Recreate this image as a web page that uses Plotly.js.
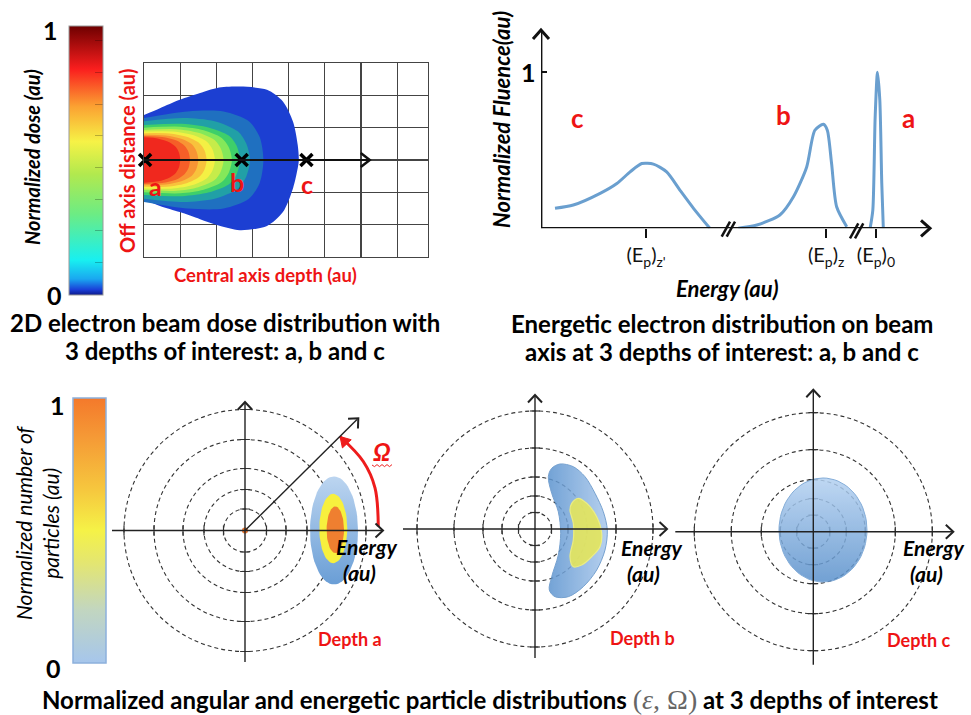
<!DOCTYPE html>
<html><head><meta charset="utf-8">
<script src="https://cdn.plot.ly/plotly-3.0.1.min.js"></script>
<style>html,body{margin:0;padding:0;background:#fff}</style>
</head><body><div id="chart" style="width:971px;height:715px"></div>
<script>
// ================= DATA =================
// Panel 1 : 2D dose distribution (depth in grid columns, off-axis distance in grid rows)
const doseOuterDepth  = [0, 0.44, 0.99, 1.55, 2.02, 2.65, 3.4, 3.84, 4.12, 4.25, 4.28];
const doseOuterTop    = [1.39, 1.6, 1.86, 2.07, 2.23, 2.27, 2.17, 1.81, 1.18, 0.46, 0];
const doseOuterBottom = [1.24, 1.42, 1.61, 1.83, 2.01, 2.17, 2.04, 1.61, 0.87, 0.25, 0];
const doseBandColors = ['#1f70c0','#21a0a6','#3ecf6a','#84e85a','#c6ec4a','#f4f044','#f8c23c','#f89434','#f55e28','#f0281e'];
const doseBandDepth = [
  [0, 1.2, 2.2, 2.9, 3.2, 3.3],
  [0, 1.1, 1.95, 2.6, 2.83, 2.93],
  [0, 1.05, 1.8, 2.35, 2.56, 2.65],
  [0, 1.0, 1.65, 2.15, 2.34, 2.43],
  [0, 0.9, 1.5, 1.95, 2.12, 2.2],
  [0, 0.8, 1.35, 1.73, 1.89, 1.96],
  [0, 0.7, 1.2, 1.53, 1.67, 1.73],
  [0, 0.6, 1.05, 1.33, 1.45, 1.5],
  [0, 0.5, 0.9, 1.12, 1.23, 1.27],
  [0, 0.4, 0.7, 0.88, 0.97, 1.0]];
const doseBandHalfWidth = [
  [1.3, 1.5, 1.5, 1.2, 0.7, 0],
  [1.2, 1.3, 1.2, 0.88, 0.5, 0],
  [1.08, 1.12, 1.0, 0.75, 0.44, 0],
  [1.0, 1.03, 0.92, 0.68, 0.4, 0],
  [0.93, 0.95, 0.84, 0.62, 0.36, 0],
  [0.88, 0.88, 0.77, 0.57, 0.33, 0],
  [0.83, 0.82, 0.71, 0.52, 0.3, 0],
  [0.78, 0.76, 0.65, 0.48, 0.27, 0],
  [0.74, 0.71, 0.6, 0.44, 0.25, 0],
  [0.7, 0.66, 0.55, 0.4, 0.22, 0]];
const depthNames = ['a', 'b', 'c'];
const depthPositions = [0.03, 2.70, 4.49];
const doseColorscale = [[0,'#0c1a8a'],[0.02,'#1a3fd8'],[0.06,'#1aa8f0'],[0.13,'#18f0f0'],[0.3,'#6cec84'],[0.45,'#b2e94e'],[0.57,'#f6f246'],[0.7,'#fba232'],[0.84,'#fa1e1e'],[1,'#6e0000']];

// Panel 2 : normalized fluence vs energy
const fluenceC_E = [0.36, 0.83, 1.52, 1.95, 2.29, 2.59, 2.89, 3.23, 3.57, 3.92, 4.34];
const fluenceC   = [0.128, 0.149, 0.224, 0.287, 0.361, 0.415, 0.411, 0.361, 0.245, 0.128, 0];
const fluenceB_E = [5.07, 5.55, 6.14, 6.49, 6.83, 7.04, 7.26, 7.36, 7.47, 7.60, 7.86];
const fluenceB   = [0, 0.021, 0.085, 0.202, 0.393, 0.628, 0.666, 0.628, 0.415, 0.138, 0.01];
const fluenceA_E = [8.46, 8.53, 8.59, 8.65, 8.71, 8.76, 8.80];
const fluenceA   = [0, 0.117, 0.71, 1.0, 0.82, 0.29, 0];
const energyTickVals = [2.70, 7.33, 8.61];
const energyTickText = ["(E<sub>p</sub>)<sub>z'</sub>", "(E<sub>p</sub>)<sub>z</sub>", "(E<sub>p</sub>)<sub>0</sub>"];

// Panel 3 : angular / energetic distributions (units: energy radius)
const ringRadiiA = [2.15, 4.1, 6.2, 9.1, 12.1];
const ringRadiiB = [1.65, 3.3, 5.2, 8.1, 11.8];
const ringRadiiC = [1.65, 3.3, 5.2, 8.2, 11.9];
// depth a : nested ellipses (outer, yellow, orange)
const blobACenterE = [8.9, 8.83, 9.03];
const blobACenterW = [0.0, 0.2, 0.07];
const blobAHalfE   = [2.4, 1.4, 0.87];
const blobAHalfW   = [5.4, 3.47, 2.33];
// depth b : crescent
const blobBOuterE = [1.67, 2.5, 3.83, 5.0, 6.0, 6.83, 7.23, 7.0, 6.17, 4.83, 3.33, 2.0, 1.43, 1.67, 2.33, 2.57, 2.33, 1.67, 1.33, 1.67];
const blobBOuterW = [6.07, 6.5, 6.23, 5.23, 3.57, 1.73, -0.1, -2.1, -4.1, -5.77, -6.77, -6.77, -6.1, -4.77, -2.6, -0.43, 1.73, 3.57, 5.23, 6.07];
const blobBInnerE = [3.67, 4.33, 5.17, 6.17, 6.67, 6.5, 5.67, 4.67, 3.83, 3.5, 3.83, 3.83, 3.5, 3.67];
const blobBInnerW = [2.57, 3.07, 2.57, 1.23, -0.43, -1.77, -2.77, -3.6, -3.77, -2.77, -1.1, 0.57, 1.9, 2.57];
// depth c : wide ellipse
const blobCCenter = [0.97, 0.17];
const blobCHalf   = [4.4, 5.2];
// Omega arc (angular spread)
const omegaArcE = [13.33, 13.0, 11.83, 9.5];
const omegaArcW = [0.4, 4.27, 6.9, 9.4];
const particleColorscale = [[0,'#a6c6ec'],[0.2,'#c2d6c0'],[0.38,'#e4e670'],[0.5,'#f5f247'],[0.65,'#f6c83e'],[0.85,'#f59a36'],[1,'#f4792b']];

// ================= BUILD =================
const W = 971, H = 715;
const PX = v => v / W, PY = v => 1 - v / H;
const FONT = 'Lato, "Open Sans", sans-serif';
const RED = '#ee1414';
const traces = [], ann = [], shapes = [];

const polarGeom = [
  {xa:'x3', ya:'y3', cx:245, cy:530.5, radii:ringRadiiA, hx:[-13.3, 13.8], vy:[-13.15, 12.85]},
  {xa:'x4', ya:'y4', cx:535, cy:529, radii:ringRadiiB, hx:[-13.2, 13.2], vy:[-12.9, 13.4]},
  {xa:'x5', ya:'y5', cx:813.3, cy:531.7, radii:ringRadiiC, hx:[-13.8, 14.0], vy:[-13.3, 14.2]}];
const UNIT = 10; // px per unit in polar panels

function chevron(tx, ty, dx, dy, L, Wd, color, lw, filled) {
  const n = Math.hypot(dx, dy); dx /= n; dy /= n;
  const nx = -dy, ny = dx;
  const ax = tx - L * dx + Wd * nx, ay = ty - L * dy + Wd * ny;
  const bx = tx - L * dx - Wd * nx, by = ty - L * dy - Wd * ny;
  shapes.push({type:'path', xref:'paper', yref:'paper',
    path:'M' + PX(ax) + ',' + PY(ay) + ' L' + PX(tx) + ',' + PY(ty) + ' L' + PX(bx) + ',' + PY(by) + (filled ? ' Z' : ''),
    line:{color:color, width:lw}, fillcolor: filled ? color : 'rgba(0,0,0,0)'});
}
function seg(xref, yref, x0, y0, x1, y1, color, width) {
  shapes.push({type:'line', xref:xref, yref:yref, x0:x0, y0:y0, x1:x1, y1:y1, line:{color:color, width:width}});
}

// --- panel 1 blob
const oX = doseOuterDepth.concat(doseOuterDepth.slice(0, -1).reverse());
const oY = doseOuterTop.concat(doseOuterBottom.slice(0, -1).reverse().map(v => -v));
traces.push({type:'scatter', x:oX, y:oY, xaxis:'x', yaxis:'y', mode:'lines', fill:'toself', fillcolor:'#1c3fd2',
  line:{color:'#1c3fd2', width:0, shape:'spline', smoothing:0.8}, hoverinfo:'skip'});
doseBandColors.forEach((c, i) => {
  const d = doseBandDepth[i], h = doseBandHalfWidth[i];
  traces.push({type:'scatter', xaxis:'x', yaxis:'y', mode:'lines', fill:'toself', fillcolor:c,
    x: d.concat(d.slice(0, -1).reverse()),
    y: h.concat(h.slice(0, -1).reverse().map(v => -v)),
    line:{color:c, width:0, shape:'spline', smoothing:0.8}, hoverinfo:'skip'});
});
traces.push({type:'scatter', xaxis:'x', yaxis:'y', mode:'markers', x:[0, 0], y:[0, 0], hoverinfo:'skip',
  marker:{size:0, color:[0, 1], cmin:0, cmax:1, colorscale:doseColorscale, showscale:true,
    colorbar:{x:PX(69), xanchor:'left', y:PY(26), yanchor:'top', len:269 / H, thickness:34, xpad:0, ypad:0,
      outlinewidth:1, outlinecolor:'#999', ticks:'inside', ticklen:8, tickcolor:'rgba(0,0,0,0.25)',
      tickmode:'linear', tick0:0.12, dtick:0.118, showticklabels:false}}});
seg('x', 'y', 0, 0, 6.2, 0, '#111', 2);
chevron(144 + 6.24 * 36.18, 160, 1, 0, 9, 7, '#111', 2.5, false);
traces.push({type:'scatter', xaxis:'x', yaxis:'y', mode:'markers', x:depthPositions, y:depthPositions.map(() => 0),
  marker:{symbol:'x-thin', size:12, line:{width:3.5, color:'#000'}}, hoverinfo:'skip', cliponaxis:false});

// --- panel 2 curves
[[fluenceC_E, fluenceC], [fluenceB_E, fluenceB], [fluenceA_E, fluenceA]].forEach(([e, f]) => {
  traces.push({type:'scatter', xaxis:'x2', yaxis:'y2', mode:'lines', x:e, y:f,
    line:{color:'#6a9fcf', width:3, shape:'spline', smoothing:0.7}, hoverinfo:'skip'});
});
seg('x2', 'y2', 0, 0, 9.95, 0, '#111', 2.8);
seg('x2', 'y2', 0, 0, 0, 1.26, '#111', 2.8);
chevron(930, 228.3, 1, 0, 9, 8, '#111', 3, false);
chevron(541, 30, 0, -1, 9, 8, '#111', 3, false);
[[721.7, 236.7, 730, 221.7], [726.7, 236.7, 735, 221.7], [850, 238.3, 858.3, 223.3], [855, 238.3, 863.3, 223.3]].forEach(s =>
  seg('paper', 'paper', PX(s[0]), PY(s[1]), PX(s[2]), PY(s[3]), '#111', 2.5));

// --- panel 3 polar diagrams
polarGeom.forEach(p => {
  p.radii.forEach(r => shapes.push({type:'circle', xref:p.xa, yref:p.ya, x0:-r, x1:r, y0:-r, y1:r,
    line:{color:'#333', width:1.1, dash:'4px,3px'}, layer:'below'}));
  const n = p.radii.length;
  traces.push({type:'scatter', xaxis:p.xa, yaxis:p.ya, mode:'markers', hoverinfo:'skip',
    x: p.radii.concat(p.radii.map(r => -r), p.radii.map(() => 0), p.radii.map(() => 0)),
    y: p.radii.map(() => 0).concat(p.radii.map(() => 0), p.radii, p.radii.map(r => -r)),
    marker:{symbol: Array(2 * n).fill('line-ns').concat(Array(2 * n).fill('line-ew')), size:7,
      line:{width:1.2, color:'#333'}}});
  seg(p.xa, p.ya, p.hx[0], 0, p.hx[1] - 0.1, 0, '#222', 1.4);
  seg(p.xa, p.ya, 0, p.vy[0], 0, p.vy[1] - 0.1, '#222', 1.4);
  chevron(p.cx + UNIT * p.hx[1], p.cy, 1, 0, 7.5, 7, '#222', 2, false);
  chevron(p.cx, p.cy - UNIT * p.vy[1], 0, -1, 7.5, 7, '#222', 2, false);
});
function ellipseTrace(xa, ya, cx, cy, rx, ry, extra) {
  const xs = [], ys = [];
  for (let k = 0; k <= 72; k++) { const t = 2 * Math.PI * k / 72; xs.push(cx + rx * Math.cos(t)); ys.push(cy + ry * Math.sin(t)); }
  return Object.assign({type:'scatter', xaxis:xa, yaxis:ya, mode:'lines', x:xs, y:ys, fill:'toself', hoverinfo:'skip'}, extra);
}
traces.push(ellipseTrace('x3', 'y3', blobACenterE[0], blobACenterW[0], blobAHalfE[0], blobAHalfW[0],
  {line:{width:0, color:'#8fb5e0'}, fillgradient:{type:'vertical', colorscale:[[0,'#6a9ed6'],[1,'#bcd5f0']]}}));
traces.push(ellipseTrace('x3', 'y3', blobACenterE[1], blobACenterW[1], blobAHalfE[1], blobAHalfW[1],
  {line:{width:0, color:'#f7f03e'}, fillcolor:'#f7f03e'}));
traces.push(ellipseTrace('x3', 'y3', blobACenterE[2], blobACenterW[2], blobAHalfE[2], blobAHalfW[2],
  {line:{width:0, color:'#ef7f30'}, fillcolor:'#ef7f30'}));
traces.push({type:'scatter', xaxis:'x4', yaxis:'y4', mode:'lines', x:blobBOuterE, y:blobBOuterW, fill:'toself', opacity:0.85,
  line:{width:1, color:'#5f92c8', shape:'spline', smoothing:0.9},
  fillgradient:{type:'horizontal', colorscale:[[0,'#5b93cf'],[1,'#a9c8ec']]}, hoverinfo:'skip'});
traces.push({type:'scatter', xaxis:'x4', yaxis:'y4', mode:'lines', x:blobBInnerE, y:blobBInnerW, fill:'toself', opacity:0.9,
  fillcolor:'#e5e65c', line:{width:1.2, color:'#f4f27a', shape:'spline', smoothing:0.9}, hoverinfo:'skip'});
traces.push(ellipseTrace('x5', 'y5', blobCCenter[0], blobCCenter[1], blobCHalf[0], blobCHalf[1],
  {opacity:0.85, line:{width:1, color:'#6f9fd2'}, fillgradient:{type:'vertical', colorscale:[[0,'#5a91cc'],[1,'#b4d1f1']]}}));
traces.push({type:'scatter', xaxis:'x3', yaxis:'y3', mode:'lines', x:omegaArcE, y:omegaArcW,
  line:{color:'#ee1c1c', width:3, shape:'spline'}, hoverinfo:'skip'});
{
  const g = polarGeom[0];
  const tx = g.cx + UNIT * omegaArcE[3], ty = g.cy - UNIT * omegaArcW[3];
  chevron(tx, ty, omegaArcE[3] - omegaArcE[2], -(omegaArcW[3] - omegaArcW[2]), 10, 6, '#ee1c1c', 1, true);
  seg('x3', 'y3', 0, 0, 11.2, 11.1, '#222', 1.4);
  chevron(g.cx + UNIT * 11.33, g.cy - UNIT * 11.22, 1, -1, 7.5, 7, '#222', 2, false);
}
traces.push({type:'scatter', xaxis:'x3', yaxis:'y3', mode:'markers', x:[0, 0], y:[0, 0], hoverinfo:'skip',
  marker:{size:0, color:[0, 1], cmin:0, cmax:1, colorscale:particleColorscale, showscale:true,
    colorbar:{x:PX(73), xanchor:'left', y:PY(398), yanchor:'top', len:265 / H, thickness:33, xpad:0, ypad:0,
      outlinewidth:1.5, outlinecolor:'#8cb0dc', ticks:'', showticklabels:false}}});
let sq = 'M' + PX(372) + ',' + PY(465);
for (let k = 1; k <= 8; k++) sq += ' L' + PX(372 + k * 2.5) + ',' + PY(465 + (k % 2 ? 1.6 : -0.4));
shapes.push({type:'path', xref:'paper', yref:'paper', path:sq, line:{color:'#ee2222', width:1}});

// --- texts
function txt(x, y, text, size, o = {}) {
  ann.push(Object.assign({xref:'paper', yref:'paper', x:PX(x), y:PY(y), xanchor:'center', yanchor:'middle', showarrow:false, text:text,
    font:{family:FONT, size:size, color:o.color || '#000', weight:o.weight || 'bold', style:o.style || 'normal'}}, o.extra || {}));
}
txt(50, 29.5, '1', 25); txt(54.5, 294.5, '0', 25);
txt(32, 157, 'Normalized dose (au)', 20, {style:'italic', extra:{textangle:-90}});
txt(127, 160, 'Off axis distance (au)', 20, {color:RED, extra:{textangle:-90}});
txt(265, 275, 'Central axis depth (au)', 18.5, {color:RED});
[[155, 186], [237, 182], [307, 184]].forEach((p, i) => txt(p[0], p[1], depthNames[i], 25, {color:RED}));
txt(225, 322, '2D electron beam dose distribution with', 24);
txt(225, 350, '3 depths of interest: a, b and c', 24);
txt(528, 72, '1', 25);
txt(502, 120, 'Normalized Fluence(au)', 22, {style:'italic', extra:{textangle:-90}});
txt(727, 288, 'Energy (au)', 22, {style:'italic'});
[[577, 118], [783, 115], [908, 118]].forEach((p, i) => txt(p[0], p[1], depthNames[2 - i], 26, {color:RED}));
txt(722, 323, 'Energetic electron distribution on beam', 24);
txt(722, 351, 'axis at 3 depths of interest: a, b and c', 24);
txt(57, 405, '1', 25); txt(53.5, 667.5, '0', 25);
txt(37, 523, 'Normalized number of<br>particles (au)', 21, {style:'italic', weight:'normal', color:'#000', extra:{textangle:-90}});
txt(382, 451, 'Ω', 25, {color:RED, style:'italic'});
[[367, 546.5, 359, 572], [652, 547, 643, 573], [934, 547, 926, 573]].forEach(p => {
  txt(p[0], p[1], 'Energy', 21, {style:'italic'});
  txt(p[2], p[3], '(au)', 21, {style:'italic'});
});
txt(350, 639, 'Depth a', 18, {color:RED}); txt(642, 638, 'Depth b', 18, {color:RED}); txt(919, 640, 'Depth c', 18, {color:RED});
txt(490, 699, 'Normalized angular and energetic particle distributions&nbsp;<span style="font-family:Liberation Serif;font-weight:normal;font-size:28px;color:#666">(<i>ε</i>, Ω)</span>&nbsp;at 3 depths of interest', 24);

// --- axes
const hid = (dom, rng, anchor) => ({domain:dom, range:rng, anchor:anchor, showgrid:false, zeroline:false, showline:false,
  showticklabels:false, ticks:'', fixedrange:true});
const P = g => ({x:[PX(g.cx - 145), PX(g.cx + 155)], y:[PY(g.cy + 145), PY(g.cy - 145)]});
const p1 = P(polarGeom[0]), p2 = P(polarGeom[1]), p3 = P(polarGeom[2]);
const layout = {
  width:W, height:H, margin:{l:0, r:0, t:0, b:0}, autosize:false, showlegend:false,
  paper_bgcolor:'#fff', plot_bgcolor:'rgba(0,0,0,0)', font:{family:FONT},
  xaxis:{domain:[PX(144), PX(428)], range:[0, 7.85], anchor:'y', tickmode:'linear', tick0:0, dtick:1, showgrid:true,
    gridcolor:'#444', gridwidth:1.2, showline:true, mirror:true, linecolor:'#444', linewidth:1.2, zeroline:false,
    showticklabels:false, ticks:'', layer:'above traces'},
  yaxis:{domain:[PY(257), PY(63)], range:[-3, 3], anchor:'x', tickmode:'linear', tick0:0, dtick:1, showgrid:true,
    gridcolor:'#444', gridwidth:1.2, showline:true, mirror:true, linecolor:'#444', linewidth:1.2, zeroline:false,
    showticklabels:false, ticks:'', layer:'above traces'},
  xaxis2:{domain:[PX(541), PX(930)], range:[0, 10], anchor:'y2', showgrid:false, zeroline:false, showline:false,
    tickmode:'array', tickvals:energyTickVals, ticktext:energyTickText, ticks:'outside', ticklen:9, tickwidth:2.5,
    tickcolor:'#111', tickfont:{family:FONT, size:20, color:'#111'}},
  yaxis2:{domain:[PY(228.3), PY(30)], range:[0, 1.27], anchor:'x2', showgrid:false, zeroline:false, showline:false,
    tickmode:'array', tickvals:[1], ticks:'inside', ticklen:6, tickwidth:2, tickcolor:'#111', showticklabels:false},
  xaxis3:hid(p1.x, [-14.5, 15.5], 'y3'), yaxis3:hid(p1.y, [-14.5, 14.5], 'x3'),
  xaxis4:hid(p2.x, [-14.5, 15.5], 'y4'), yaxis4:hid(p2.y, [-14.5, 14.5], 'x4'),
  xaxis5:hid(p3.x, [-14.5, 15.5], 'y5'), yaxis5:hid(p3.y, [-14.5, 14.5], 'x5'),
  annotations:ann, shapes:shapes
};
Plotly.newPlot('chart', traces, layout, {staticPlot:true, displayModeBar:false});
</script></body></html>
